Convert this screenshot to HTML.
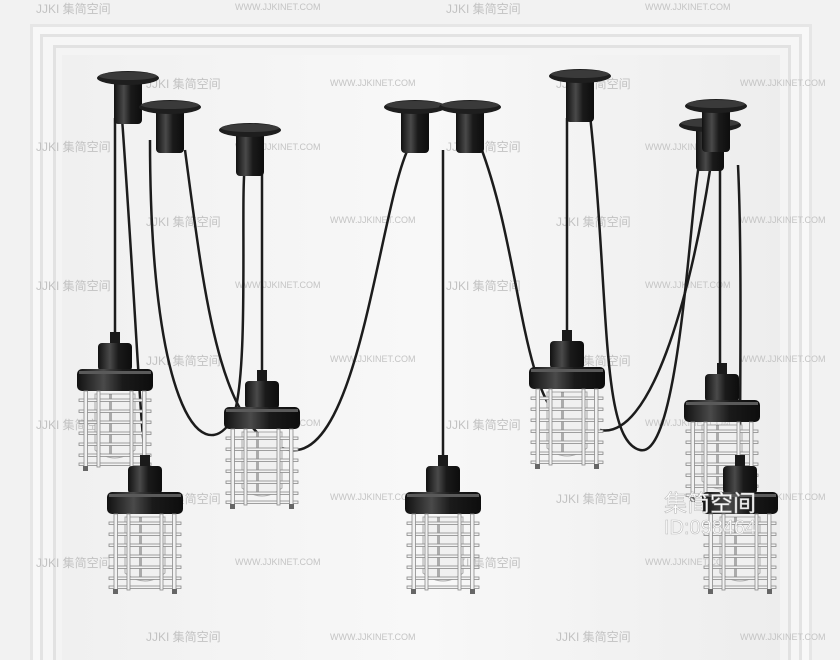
<!DOCTYPE html>
<html><head><meta charset="utf-8"><style>
html,body{margin:0;padding:0;background:#f3f3f3;}
svg{display:block}
.wm{font-family:"Liberation Sans","Noto Sans CJK SC",sans-serif;fill:#c4c4c4;font-size:9px}
.wc{font-family:"Liberation Sans","Noto Sans CJK SC",sans-serif;fill:#c2c2c2;font-size:12px}
</style></head><body>
<svg width="840" height="660" viewBox="0 0 840 660" xmlns="http://www.w3.org/2000/svg">
<defs>
<linearGradient id="wall" x1="0" y1="0" x2="1" y2="0">
<stop offset="0" stop-color="#f0f0f0"/><stop offset="0.5" stop-color="#f8f8f8"/><stop offset="1" stop-color="#ededed"/></linearGradient>
<linearGradient id="blk" x1="0" y1="0" x2="1" y2="0">
<stop offset="0" stop-color="#111"/><stop offset="0.35" stop-color="#4a4a4a"/><stop offset="0.6" stop-color="#1a1a1a"/><stop offset="1" stop-color="#0d0d0d"/></linearGradient>
<g id="canopy">
<rect x="-14" y="2" width="28" height="44" rx="4" fill="url(#blk)"/>
<ellipse cx="0" cy="0" rx="31" ry="7" fill="#1e1e1e"/>
<ellipse cx="0" cy="-2" rx="29" ry="4" fill="#3a3a3a"/>
</g>
<g id="pend">
<rect x="-5" y="0" width="10" height="13" fill="#1a1a1a"/>
<rect x="-17" y="11" width="34" height="28" rx="4" fill="url(#blk)"/>
<rect x="-38" y="37" width="76" height="22" rx="5" fill="url(#blk)"/>
<rect x="-36" y="39" width="72" height="3" fill="#5a5a5a"/>
<path d="M-20 62 L20 62 L20 118 Q0 134 -20 118 Z" fill="#f0f0f0" stroke="#aaa" stroke-width="1"/>
<rect x="-6" y="62" width="3" height="60" fill="#444" opacity="0.4"/>
<g fill="#f2f2f2" stroke="#8a8a8a" stroke-width="0.8">
<rect x="-36" y="67" width="72" height="2.5"/>
<rect x="-36" y="78" width="72" height="2.5"/>
<rect x="-36" y="89" width="72" height="2.5"/>
<rect x="-36" y="100" width="72" height="2.5"/>
<rect x="-36" y="111" width="72" height="2.5"/>
<rect x="-36" y="122" width="72" height="2.5"/>
<rect x="-36" y="131" width="72" height="2.5"/>
<rect x="-31" y="59" width="3.5" height="76"/>
<rect x="-18" y="59" width="3" height="76"/>
<rect x="15" y="59" width="3" height="76"/>
<rect x="27.5" y="59" width="3.5" height="76"/>
</g>
<g fill="#666"><rect x="-32" y="134" width="5" height="5"/><rect x="27" y="134" width="5" height="5"/></g>
</g>
</defs>
<rect width="840" height="660" fill="#f2f2f2"/>
<!-- moulding -->
<rect x="30" y="24" width="782" height="640" fill="#e6e6e6"/>
<rect x="33" y="27" width="776" height="634" fill="#f8f8f8"/>
<rect x="40" y="34" width="762" height="626" fill="#e3e3e3"/>
<rect x="43" y="37" width="756" height="623" fill="#f6f6f6"/>
<rect x="53" y="45" width="738" height="615" fill="#e2e2e2"/>
<rect x="56" y="48" width="732" height="612" fill="#f4f4f4"/>
<rect x="62" y="55" width="718" height="605" fill="url(#wall)"/>
<!-- watermarks -->
<g class="wm">
<text x="235" y="10">WWW.JJKINET.COM</text><text x="645" y="10">WWW.JJKINET.COM</text>
<text x="330" y="86">WWW.JJKINET.COM</text><text x="740" y="86">WWW.JJKINET.COM</text>
<text x="235" y="150">WWW.JJKINET.COM</text><text x="645" y="150">WWW.JJKINET.COM</text>
<text x="330" y="223">WWW.JJKINET.COM</text><text x="740" y="223">WWW.JJKINET.COM</text>
<text x="235" y="288">WWW.JJKINET.COM</text><text x="645" y="288">WWW.JJKINET.COM</text>
<text x="330" y="362">WWW.JJKINET.COM</text><text x="740" y="362">WWW.JJKINET.COM</text>
<text x="235" y="426">WWW.JJKINET.COM</text><text x="645" y="426">WWW.JJKINET.COM</text>
<text x="330" y="500">WWW.JJKINET.COM</text><text x="740" y="500">WWW.JJKINET.COM</text>
<text x="235" y="565">WWW.JJKINET.COM</text><text x="645" y="565">WWW.JJKINET.COM</text>
<text x="330" y="640">WWW.JJKINET.COM</text><text x="740" y="640">WWW.JJKINET.COM</text>
</g>
<g class="wc">
<text x="36" y="13">JJKI 集简空间</text><text x="446" y="13">JJKI 集简空间</text>
<text x="146" y="88">JJKI 集简空间</text><text x="556" y="88">JJKI 集简空间</text>
<text x="36" y="151">JJKI 集简空间</text><text x="446" y="151">JJKI 集简空间</text>
<text x="146" y="226">JJKI 集简空间</text><text x="556" y="226">JJKI 集简空间</text>
<text x="36" y="290">JJKI 集简空间</text><text x="446" y="290">JJKI 集简空间</text>
<text x="146" y="365">JJKI 集简空间</text><text x="556" y="365">JJKI 集简空间</text>
<text x="36" y="429">JJKI 集简空间</text><text x="446" y="429">JJKI 集简空间</text>
<text x="146" y="503">JJKI 集简空间</text><text x="556" y="503">JJKI 集简空间</text>
<text x="36" y="567">JJKI 集简空间</text><text x="446" y="567">JJKI 集简空间</text>
<text x="146" y="641">JJKI 集简空间</text><text x="556" y="641">JJKI 集简空间</text>
</g>
<!-- cables -->
<g fill="none" stroke="#1c1c1c" stroke-width="2.5">
<path d="M115 118 L115 332"/>
<path d="M122 118 C135 300 140 420 145 455"/>
<path d="M150 140 C150 400 200 470 232 420 C250 380 240 200 245 165"/>
<path d="M262 170 L262 370"/>
<path d="M185 150 C205 300 220 440 290 450 C360 460 380 200 410 145"/>
<path d="M443 150 L443 455"/>
<path d="M480 145 C520 250 520 380 560 420"/>
<path d="M567 118 L567 330"/>
<path d="M590 115 C610 300 600 440 640 450 C680 460 690 200 700 160"/>
<path d="M720 165 L720 363"/>
<path d="M738 165 C742 250 740 380 740 455"/>
<path d="M600 430 C650 440 690 300 710 170"/>
</g>
<!-- canopies -->
<use href="#canopy" x="128" y="78"/>
<use href="#canopy" x="170" y="107"/>
<use href="#canopy" x="250" y="130"/>
<use href="#canopy" x="415" y="107"/>
<use href="#canopy" x="470" y="107"/>
<use href="#canopy" x="580" y="76"/>
<use href="#canopy" x="710" y="125"/>
<use href="#canopy" x="716" y="106"/>
<!-- pendants -->
<use href="#pend" x="115" y="332"/>
<use href="#pend" x="262" y="370"/>
<use href="#pend" x="567" y="330"/>
<use href="#pend" x="722" y="363"/>
<use href="#pend" x="145" y="455"/>
<use href="#pend" x="443" y="455"/>
<use href="#pend" x="740" y="455"/>
<!-- ID -->
<g font-family="'Liberation Sans','Noto Sans CJK SC',sans-serif" fill="#ffffff" stroke="#bdbdbd" stroke-width="0.6">
<text x="664" y="511" font-size="23">集简空间</text>
<text x="664" y="534" font-size="20">ID:098464</text>
</g>
</svg>
</body></html>
